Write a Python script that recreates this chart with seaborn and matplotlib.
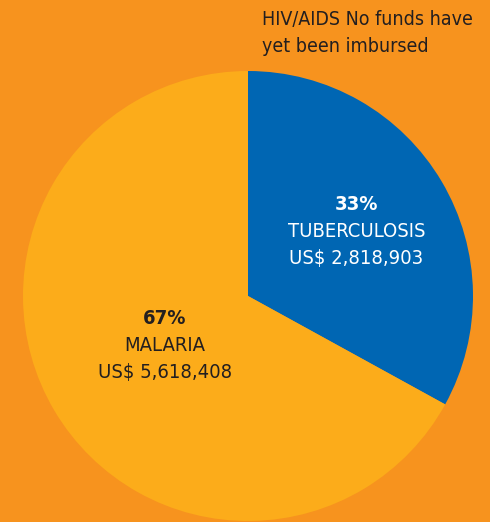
import numpy as np
import matplotlib
matplotlib.use("Agg")
import matplotlib.pyplot as plt
import seaborn as sns

# data
diseases = ["TUBERCULOSIS", "MALARIA"]
shares = [33, 67]
amount_labels = ["US$ 2,818,903", "US$ 5,618,408"]
note = "HIV/AIDS No funds have\nyet been imbursed"

sns.set_theme(style="white")
plt.rcParams["font.family"] = ["DejaVu Sans"]
plt.rcParams["font.stretch"] = "condensed"

bg = "#F7931E"
colors = ["#0066B3", "#FCAC1A"]
text_colors = ["white", "#231F20"]
label_dist = [0.56, 0.43]

fig = plt.figure(figsize=(4.9, 5.22), dpi=100)
fig.patch.set_facecolor(bg)
ax = fig.add_axes([23 / 490, 1 / 522, 450 / 490, 450 / 522])
ax.set_facecolor(bg)

wedges, _ = ax.pie(shares, colors=colors, startangle=90, counterclock=False,
                   wedgeprops=dict(linewidth=0))
ax.set_xlim(-1, 1)
ax.set_ylim(-1, 1)
ax.axis("off")

for w, pct, name, amt, d, tc in zip(wedges, shares, diseases, amount_labels,
                                     label_dist, text_colors):
    mid = np.deg2rad((w.theta1 + w.theta2) / 2)
    x, y = d * np.cos(mid), d * np.sin(mid)
    ax.text(x, y + 0.12, f"{pct}%", ha="center", va="center", color=tc,
            fontsize=14.5, fontweight="bold", fontstretch="condensed")
    ax.text(x, y, name, ha="center", va="center", color=tc, fontsize=14.5,
            fontstretch="condensed")
    ax.text(x, y - 0.12, amt, ha="center", va="center", color=tc, fontsize=14.5,
            fontstretch="condensed")

fig.text(262 / 490, 1 - 10 / 522, note, ha="left", va="top", color="#231F20",
         fontsize=14, linespacing=1.55, fontstretch="condensed")

fig.savefig("out.png", dpi=100, facecolor=bg)
